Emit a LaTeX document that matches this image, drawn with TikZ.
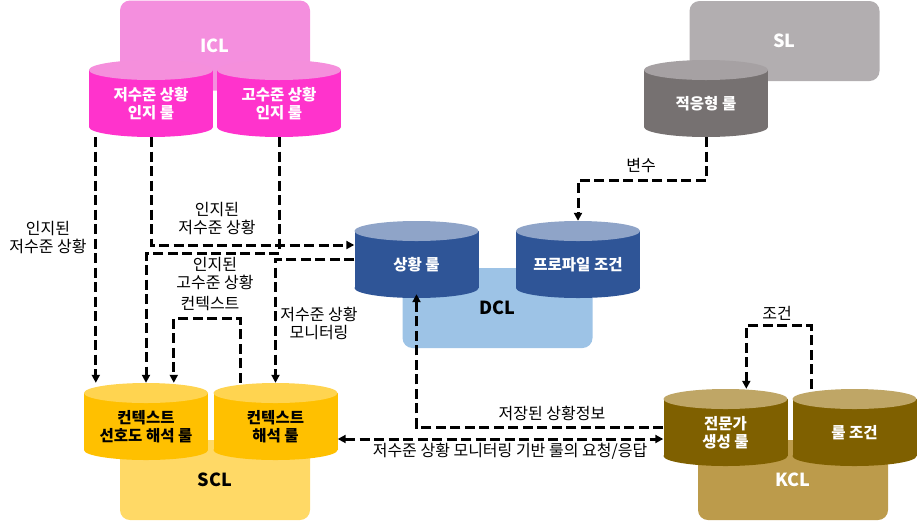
\documentclass[tikz,border=0pt]{standalone}
\usepackage{fontspec}
\setmainfont{Noto Sans CJK KR}
\usetikzlibrary{arrows.meta}

\definecolor{iclback}{RGB}{244,143,222}
\definecolor{iclbody}{RGB}{255,51,204}
\definecolor{icltop}{RGB}{245,143,220}
\definecolor{slback}{RGB}{178,174,176}
\definecolor{slbody}{RGB}{118,113,113}
\definecolor{sltop}{RGB}{166,161,163}
\definecolor{dclback}{RGB}{157,195,230}
\definecolor{dclbody}{RGB}{47,85,151}
\definecolor{dcltop}{RGB}{143,164,200}
\definecolor{sclback}{RGB}{255,217,102}
\definecolor{sclbody}{RGB}{255,192,0}
\definecolor{scltop}{RGB}{255,212,80}
\definecolor{kclback}{RGB}{188,155,75}
\definecolor{kclbody}{RGB}{127,96,0}
\definecolor{kcltop}{RGB}{191,166,102}

\tikzset{
  panel/.style={rounded corners=10pt,minimum width=190pt,
    font=\fontsize{18}{20}\selectfont\bfseries},
  canbox/.style={minimum width=124pt,minimum height=77pt,inner sep=0pt},
  cantext/.style={align=center,font=\fontsize{15.5}{18}\selectfont\bfseries},
  flow/.style={line width=3pt,dash pattern=on 10pt off 4.5pt,
    -{Triangle[length=8pt,width=8pt]}},
  note/.style={align=center,font=\fontsize{16}{18}\selectfont}}

% name, centre x, top y, body colour, top colour, text colour, text
\newcommand{\rulecan}[7]{%
  \fill[#4] (#2-62,#3+10) rectangle (#2+62,#3+67);
  \fill[#4] (#2,#3+67) ellipse [x radius=62,y radius=10];
  \fill[#5] (#2,#3+10) ellipse [x radius=62,y radius=10];
  \node[canbox] (#1) at (#2,#3+38.5) {};
  \node[cantext,text=#6] (#1-t) at ([yshift=-5.5pt]#1.center) {#7};}

\begin{document}
\begin{tikzpicture}[x=1pt,y=-1pt]
  \useasboundingbox (0,0) rectangle (917,520);

  % layers
  \node[panel,fill=iclback,text=white,minimum height=90pt] (icl) at (215,45.5) {ICL};
  \node[panel,fill=slback,text=white,minimum height=80pt] (sl) at (784.5,41) {SL};
  \node[panel,fill=dclback,minimum height=80pt] (dcl) at (497.5,308) {DCL};
  \node[panel,fill=sclback,minimum height=80pt] (scl) at (215,480) {SCL};
  \node[panel,fill=kclback,text=white,minimum height=80pt] (kcl) at (793,480) {KCL};

  % rule stores
  \rulecan{lowrec}{151}{60}{iclbody}{icltop}{white}{저수준 상황\\인지 룰}
  \rulecan{highrec}{279}{60}{iclbody}{icltop}{white}{고수준 상황\\인지 룰}
  \rulecan{adaptrule}{706}{60}{slbody}{sltop}{white}{적응형 룰}
  \rulecan{sitrule}{416.5}{221}{dclbody}{dcltop}{white}{상황 룰}
  \rulecan{profcond}{578}{221}{dclbody}{dcltop}{white}{프로파일 조건}
  \rulecan{prefrule}{146}{383}{sclbody}{scltop}{black}{컨텍스트\\선호도 해석 룰}
  \rulecan{ctxrule}{275.5}{383}{sclbody}{scltop}{black}{컨텍스트\\해석 룰}
  \rulecan{expertrule}{725.5}{389}{kclbody}{kcltop}{white}{전문가\\생성 룰}
  \rulecan{rulecond}{854.5}{389}{kclbody}{kcltop}{white}{룰 조건}

  % flows
  \coordinate (lowout) at ([xshift=7pt]lowrec.south west);
  \draw[flow] (lowout) -- (lowout |- prefrule.north);
  \draw[flow] (lowrec.south) |- ([yshift=14.5pt]sitrule.west);
  \draw[flow] (highrec.south) -- ++(0,116) -| (prefrule.north);
  \draw[flow] (sitrule.west) -| (ctxrule.north);
  \draw[flow] ([xshift=27pt]ctxrule.north west) -- ++(0,-64)
    -| ([xshift=90pt]prefrule.north west);
  \draw[flow] (adaptrule.south) -- ++(0,43) -| (profcond.north);
  \draw[flow,shorten >=-4pt] (expertrule.west) -| (sitrule.south);
  \coordinate (reqleft) at ([yshift=-17.5pt]ctxrule.east);
  \draw[flow,{Triangle[length=8pt,width=8pt]}-{Triangle[length=8pt,width=8pt]}]
    (reqleft) -- (reqleft -| expertrule.west);
  \draw[flow] ([xshift=19pt]rulecond.north west) -- ++(0,-63)
    -| ([xshift=83pt]expertrule.north west);

  % labels
  \node[note] (lowlbl) at (48,238) {인지된\\저수준 상황};
  \node[note] (sitlbl) at (217,218.5) {인지된\\저수준 상황};
  \node[note] (highlbl) at (215,273.5) {인지된\\고수준 상황};
  \node[note] (ctxlbl) at (210,304) {컨텍스트};
  \node[note] (monlbl) at (319,323.5) {저수준 상황\\모니터링};
  \node[note] (varlbl) at (641,166) {변수};
  \node[note] (storelbl) at (552,413) {저장된 상황정보};
  \node[note] (reqlbl) at (510,451) {저수준 상황 모니터링 기반 룰의 요청/응답};
  \node[note] (condlbl) at (777,313) {조건};
\end{tikzpicture}
\end{document}
